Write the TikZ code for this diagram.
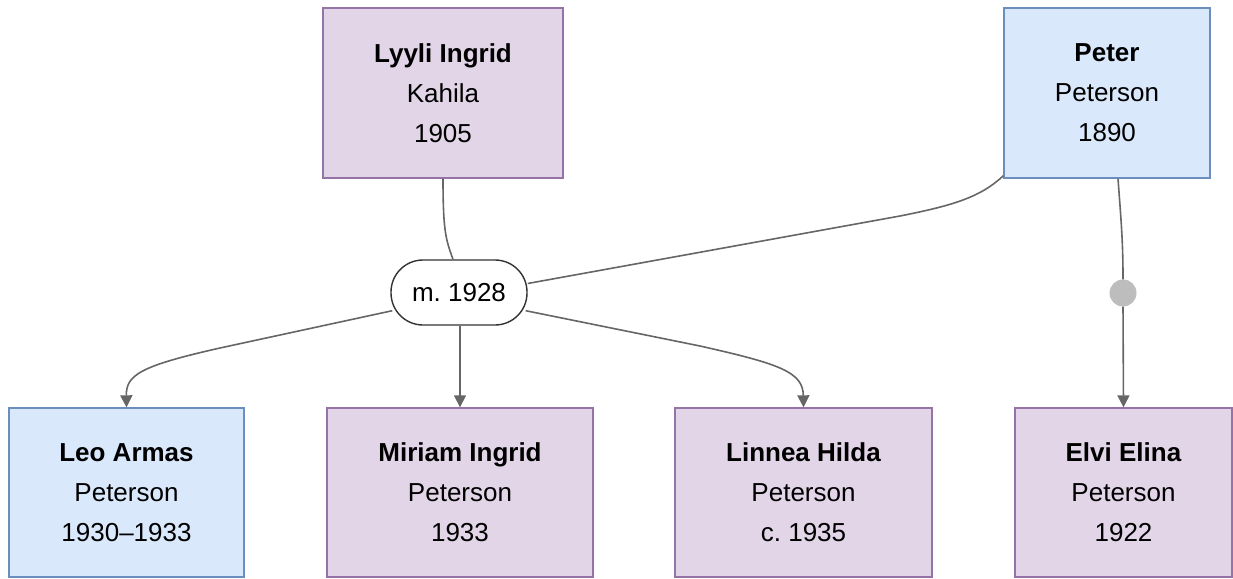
\documentclass[tikz,border=0pt]{standalone}
\usepackage{fontspec}
\setmainfont{Liberation Sans}
\usetikzlibrary{arrows.meta,calc}
\definecolor{femfill}{HTML}{E1D5E7}
\definecolor{femdraw}{HTML}{9673A6}
\definecolor{malefill}{HTML}{DAE8FC}
\definecolor{maledraw}{HTML}{6C8EBF}
\definecolor{edgecol}{HTML}{666666}
\definecolor{dotcol}{HTML}{BDBDBD}
\frenchspacing
\begin{document}
\begin{tikzpicture}[x=1pt,y=-1pt,
  person/.style={draw,line width=1.4pt,align=center,inner sep=0pt,
    font=\fontsize{26}{40}\selectfont,minimum height=170pt},
  female/.style={person,fill=femfill,draw=femdraw},
  male/.style={person,fill=malefill,draw=maledraw},
  union/.style={draw=black!80,line width=1.4pt,fill=white,rounded corners=32pt,
    minimum width=136pt,minimum height=65pt,font=\fontsize{26}{30}\selectfont},
  link/.style={draw=edgecol,line width=1.6pt},
  arrowlink/.style={link,-{Triangle[width=12pt,length=12pt]},fill=none},
  junction/.style={circle,fill=dotcol,minimum size=27pt,inner sep=0pt}]
\useasboundingbox (0,0) rectangle (1233,578);

% parents
\node[female,minimum width=240pt] (lyyli) at (443,93) {\textbf{Lyyli Ingrid}\\Kahila\\1905};
\node[male,minimum width=206pt] (peter) at (1107,93) {\textbf{Peter}\\Peterson\\1890};

% marriage
\node[union] (m) at (459,292.5) {m. 1928};

% children
\node[male,minimum width=235pt,minimum height=169pt] (leo) at (126.5,492.5) {\textbf{Leo Armas}\\Peterson\\1930–1933};
\node[female,minimum width=266pt,minimum height=169pt] (miriam) at (460,492.5) {\textbf{Miriam Ingrid}\\Peterson\\1933};
\node[female,minimum width=257pt,minimum height=169pt] (linnea) at (803.5,492.5) {\textbf{Linnea Hilda}\\Peterson\\c. 1935};
\node[female,minimum width=217pt,minimum height=169pt] (elvi) at (1123.5,492.5) {\textbf{Elvi Elina}\\Peterson\\1922};

% junction dot on Peter's other line
\node[junction] (dot) at (1123,293) {};

% parent to marriage lines
\draw[link] (lyyli.south) .. controls (443,232) and (446,240) .. ($(m.north)+(-6,0)$);
\draw[link] ($(peter.south west)+(0,-3)$) .. controls (980,198) and (950,206) .. (900,216) -- ($(m.east)+(0,-9)$);

% marriage to children
\draw[arrowlink] ($(m.south west)+(2,-15)$) -- (220,348) .. controls (140,366) and (126,375) .. (leo.north);
\draw[arrowlink] ($(m.south)+(1,0)$) -- (miriam.north);
\draw[arrowlink] ($(m.south east)+(-2,-15)$) -- (700,346) .. controls (780,364) and (803,372) .. (linnea.north);

% Peter to Elvi through the junction
\draw[link] ($(peter.south)+(11,0)$) .. controls (1121,220) and (1123,240) .. (dot.north);
\draw[arrowlink] (dot.south) -- (elvi.north);
\end{tikzpicture}
\end{document}
